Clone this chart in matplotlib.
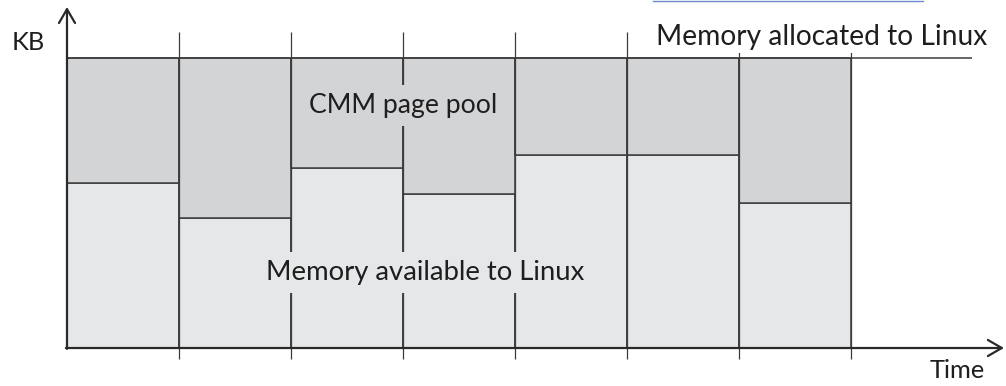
import matplotlib
matplotlib.use("Agg")
import matplotlib.pyplot as plt
from matplotlib.lines import Line2D

# ---- data ----
intervals = [0, 1, 2, 3, 4, 5, 6]                 # time slots
allocated = [100, 100, 100, 100, 100, 100, 100]   # memory allocated to Linux (relative KB)
available = [57, 45, 62, 53, 66.5, 66.5, 50]      # memory available to Linux
pool = [a - b for a, b in zip(allocated, available)]  # CMM page pool

label_pool = "CMM page pool"
label_avail = "Memory available to Linux"
label_alloc = "Memory allocated to Linux"
label_y = "KB"
label_x = "Time"

# ---- style ----
light = "#e6e7e9"
dark = "#d3d4d6"
edge = "#3c3c3c"
txt = "#1e1e1e"
FONT = ["Lato", "DejaVu Sans"]

W, H = 1006, 386
fig = plt.figure(figsize=(W / 100, H / 100), dpi=100)
ax = fig.add_axes([0, 0, 1, 1])
ax.axis("off")
ax.set_xlim(-0.5985, 8.388)
ax.set_ylim(-13.1, 120.0)

ax.bar(intervals, available, width=1, align="edge", color=light,
       edgecolor=edge, linewidth=1.1, zorder=2)
ax.bar(intervals, pool, bottom=available, width=1, align="edge", color=dark,
       edgecolor=edge, linewidth=1.1, zorder=2)

# dividers extending above/below
ax.vlines([i + 1 for i in intervals], -3.8, 109.1, color=edge, linewidth=0.9, zorder=3)
# allocated line extends further right
ax.hlines(allocated[-1], 0, 8.08, color=edge, linewidth=1.1, zorder=3)

# axes arrows
arr = dict(arrowstyle="->,head_length=0.5,head_width=0.29", lw=1.6,
           color="#2a2a2a", mutation_scale=20, shrinkA=0, shrinkB=0)
ax.annotate("", xy=(8.37, 0), xytext=(-0.01, 0), arrowprops=arr, zorder=6)
ax.annotate("", xy=(0, 117.6), xytext=(0, -0.3), arrowprops=arr, zorder=6)

common = dict(ha="center", va="baseline", fontsize=18, family=FONT,
              weight="normal", color=txt, zorder=7)
t1 = ax.text(3.0, 81.0, label_pool,
             bbox=dict(boxstyle="square,pad=0.3", fc=dark, ec="none"), **common)
t2 = ax.text(3.2, 23.4, label_avail,
             bbox=dict(boxstyle="square,pad=0.3", fc=light, ec="none"), **common)
t3 = ax.text(6.745, 104.5, label_alloc,
             bbox=dict(boxstyle="square,pad=0.1", fc="white", ec="none"), **common)
t4 = ax.text(-0.344, 102.8, label_y, **common)
t5 = ax.text(7.95, -10.3, label_x, **common)

# fit font sizes to the measured text widths (pixels)
targets = [(t1, 188), (t2, 318), (t3, 329), (t4, 33), (t5, 55)]
for _ in range(2):
    fig.canvas.draw()
    r = fig.canvas.get_renderer()
    for t, w in targets:
        bb = t.get_window_extent(r)
        t.set_fontsize(t.get_fontsize() * w / bb.width)

# blue underline fragment of cut-off caption at the top
fig.add_artist(Line2D([653 / W, 923 / W], [1 - 1.0 / H, 1 - 1.0 / H],
                      color="#6a8acb", linewidth=1.0))

fig.savefig("out.png", dpi=100)
